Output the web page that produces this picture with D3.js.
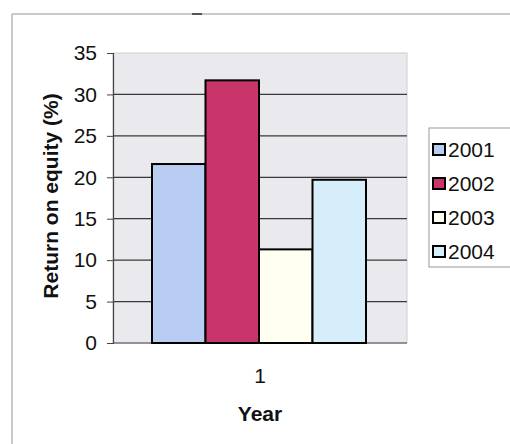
<!DOCTYPE html>
<html>
<head>
<meta charset="utf-8">
<script src="https://cdn.jsdelivr.net/npm/d3@7"></script>
<style>
  body { margin: 0; background: #fff; }
  text { font-family: Arial, "Liberation Sans", sans-serif; }
</style>
</head>
<body>
<script>
// chart values
var categories = ["1"];
var seriesNames = ["2001", "2002", "2003", "2004"];
var seriesValues = [21.6, 31.7, 11.3, 19.7];
var seriesColors = ["#b9cdf2", "#c9346b", "#fffff2", "#d5eef9"];
var yTicks = [0, 5, 10, 15, 20, 25, 30, 35];

var svgWidth = 510;
var svgHeight = 444;

var chartMargin = { top: 53, right: 103, bottom: 101, left: 113 };
var chartWidth = svgWidth - chartMargin.left - chartMargin.right;
var chartHeight = svgHeight - chartMargin.top - chartMargin.bottom;

var svg = d3.select("body")
  .append("svg")
  .attr("width", svgWidth)
  .attr("height", svgHeight);

// outer frame (top and left edges only are visible)
svg.append("line")
  .attr("x1", 12).attr("y1", 14).attr("x2", 510).attr("y2", 14)
  .attr("stroke", "#b8b8b8").attr("stroke-width", 1.5);
svg.append("line")
  .attr("x1", 12).attr("y1", 14).attr("x2", 12).attr("y2", 444)
  .attr("stroke", "#b8b8b8").attr("stroke-width", 1.5);
svg.append("line")
  .attr("x1", 192).attr("y1", 14).attr("x2", 202).attr("y2", 14)
  .attr("stroke", "#555").attr("stroke-width", 2);

var chartGroup = svg.append("g")
  .attr("transform", `translate(${chartMargin.left}, ${chartMargin.top})`);

var x0 = d3.scaleBand()
  .domain(categories)
  .range([0, chartWidth]);

var x1 = d3.scaleBand()
  .domain(seriesNames)
  .range([39, 39 + 214])
  .paddingInner(0);

var yLinearScale = d3.scaleLinear()
  .domain([0, 35])
  .range([chartHeight, 0]);

// plot background
chartGroup.append("rect")
  .attr("width", chartWidth)
  .attr("height", chartHeight)
  .attr("fill", "#e9e9ee")
  .attr("stroke", "#d0d0d0");

// gridlines
chartGroup.append("g")
  .selectAll("line")
  .data(yTicks.slice(1, -1))
  .enter()
  .append("line")
  .attr("x1", 0)
  .attr("x2", chartWidth)
  .attr("y1", d => yLinearScale(d))
  .attr("y2", d => yLinearScale(d))
  .attr("stroke", "#3a3a3a")
  .attr("stroke-width", 1.2);

// left axis
var leftAxis = d3.axisLeft(yLinearScale)
  .tickValues(yTicks)
  .tickSize(6)
  .tickPadding(10);

var yAxisG = chartGroup.append("g").call(leftAxis);
yAxisG.attr("font-size", null).attr("font-family", null);
yAxisG.select(".domain").attr("stroke", "#444").attr("stroke-width", 1.2);
yAxisG.selectAll(".tick line").attr("stroke", "#444");
yAxisG.selectAll("text")
  .style("font-size", "21px")
  .attr("fill", "#111");

// bottom axis line
chartGroup.append("line")
  .attr("x1", 0).attr("x2", chartWidth)
  .attr("y1", chartHeight).attr("y2", chartHeight)
  .attr("stroke", "#444").attr("stroke-width", 1.2);

// bars
var barGroup = chartGroup.selectAll(".cat")
  .data(categories)
  .enter()
  .append("g")
  .attr("class", "cat")
  .attr("transform", d => `translate(${x0(d)}, 0)`);

barGroup.selectAll("rect")
  .data(seriesNames.map((s, i) => ({ name: s, value: seriesValues[i], color: seriesColors[i] })))
  .enter()
  .append("rect")
  .attr("x", d => x1(d.name))
  .attr("width", x1.bandwidth())
  .attr("y", d => yLinearScale(d.value))
  .attr("height", d => chartHeight - yLinearScale(d.value))
  .attr("fill", d => d.color)
  .attr("stroke", "#000")
  .attr("stroke-width", 2);

// category label
chartGroup.selectAll(".catLabel")
  .data(categories)
  .enter()
  .append("text")
  .attr("class", "catLabel")
  .attr("x", d => x0(d) + x0.bandwidth() / 2)
  .attr("y", chartHeight + 40)
  .attr("text-anchor", "middle")
  .style("font-size", "21px")
  .attr("fill", "#111")
  .text(d => d);

// axis titles
chartGroup.append("text")
  .attr("x", chartWidth / 2)
  .attr("y", chartHeight + 78)
  .attr("text-anchor", "middle")
  .style("font-size", "21px")
  .attr("font-weight", "bold")
  .attr("fill", "#111")
  .text("Year");

chartGroup.append("text")
  .attr("transform", "rotate(-90)")
  .attr("x", 0 - (chartHeight / 2) + 2)
  .attr("y", 0 - chartMargin.left + 58)
  .attr("text-anchor", "middle")
  .style("font-size", "21px")
  .attr("font-weight", "bold")
  .attr("fill", "#111")
  .text("Return on equity (%)");

// legend
var legend = svg.append("g")
  .attr("transform", "translate(429, 128)");

legend.append("rect")
  .attr("width", 90)
  .attr("height", 139)
  .attr("fill", "#fff")
  .attr("stroke", "#999");

var legendItems = legend.selectAll(".legendItem")
  .data(seriesNames)
  .enter()
  .append("g")
  .attr("class", "legendItem")
  .attr("transform", (d, i) => `translate(4, ${22 + i * 34})`);

legendItems.append("rect")
  .attr("x", 0)
  .attr("y", -6)
  .attr("width", 12)
  .attr("height", 11)
  .attr("fill", (d, i) => seriesColors[i])
  .attr("stroke", "#000")
  .attr("stroke-width", 2);

legendItems.append("text")
  .attr("x", 15)
  .attr("y", 7)
  .style("font-size", "21px")
  .attr("fill", "#111")
  .text(d => d);
</script>
</body>
</html>
